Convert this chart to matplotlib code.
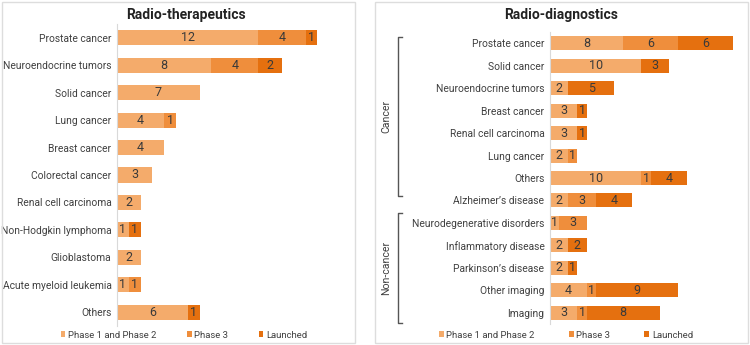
import matplotlib.pyplot as plt
from matplotlib.patches import Rectangle, Patch
from matplotlib.lines import Line2D

plt.rcParams['font.family'] = ['Roboto', 'DejaVu Sans']

# data
ther_cats = ['Prostate cancer', 'Neuroendocrine tumors', 'Solid cancer', 'Lung cancer',
             'Breast cancer', 'Colorectal cancer', 'Renal cell carcinoma',
             'Non-Hodgkin lymphoma', 'Glioblastoma', 'Acute myeloid leukemia', 'Others']
ther_p12 = [12, 8, 7, 4, 4, 3, 2, 1, 2, 1, 6]
ther_p3 = [4, 4, 0, 1, 0, 0, 0, 0, 0, 1, 0]
ther_launched = [1, 2, 0, 0, 0, 0, 0, 1, 0, 0, 1]

diag_cats = ['Prostate cancer', 'Solid cancer', 'Neuroendocrine tumors', 'Breast cancer',
             'Renal cell carcinoma', 'Lung cancer', 'Others', 'Alzheimer\u2019s disease',
             'Neurodegenerative disorders', 'Inflammatory disease', 'Parkinson\u2019s disease',
             'Other imaging', 'Imaging']
diag_p12 = [8, 10, 2, 3, 3, 2, 10, 2, 1, 2, 2, 4, 3]
diag_p3 = [6, 0, 0, 0, 0, 1, 1, 3, 3, 0, 0, 1, 1]
diag_launched = [6, 3, 5, 1, 1, 0, 4, 4, 0, 2, 1, 9, 8]

series_names = ['Phase 1 and Phase 2', 'Phase 3', 'Launched']
colors = ['#F4AB6B', '#EF8E3C', '#E5700F']

W, H = 750, 345
fig = plt.figure(figsize=(W / 100, H / 100), dpi=100)


def px_rect(x0, y0, x1, y1):
    # pixel box (top-left origin) -> figure fraction [l, b, w, h]
    return [x0 / W, 1 - y1 / H, (x1 - x0) / W, (y1 - y0) / H]


# panel frames
for x0, x1 in [(2, 355), (375, 748)]:
    l, b, w, h = px_rect(x0, 2, x1, 343)
    fig.patches.append(Rectangle((l, b), w, h, transform=fig.transFigure,
                                 fill=False, edgecolor='#DDDDDD', linewidth=1))


def draw_panel(ax, cats, p12, p3, launched, xmax, bar_h):
    y = list(range(len(cats)))
    left = [0] * len(cats)
    for vals, c in zip([p12, p3, launched], colors):
        bars = ax.barh(y, vals, left=left, height=bar_h, color=c, edgecolor='none')
        for rect, v in zip(bars, vals):
            if v > 0:
                ax.text(rect.get_x() + v / 2, rect.get_y() + bar_h / 2, str(v),
                        ha='center', va='center', fontsize=9, color='#3A3A3A')
        left = [a + b for a, b in zip(left, vals)]
    ax.set_yticks(y)
    ax.set_yticklabels(cats, fontsize=7.4, color='#404040')
    ax.set_ylim(len(cats) - 0.5, -0.5)
    ax.set_xlim(0, xmax)
    ax.set_xticks([])
    for s in ['top', 'right', 'bottom']:
        ax.spines[s].set_visible(False)
    ax.spines['left'].set_color('#D9D9D9')
    ax.tick_params(axis='y', length=0, pad=4)
    handles = [Patch(facecolor=c, edgecolor='none') for c in colors]
    return handles


ax1 = fig.add_axes(px_rect(117, 24, 341, 326))
h1 = draw_panel(ax1, ther_cats, ther_p12, ther_p3, ther_launched, 19, 0.55)
ax2 = fig.add_axes(px_rect(550, 32, 742, 324))
h2 = draw_panel(ax2, diag_cats, diag_p12, diag_p3, diag_launched, 21, 0.62)

fig.text(186 / W, 1 - 15 / H, 'Radio-therapeutics', ha='center', va='center',
         fontsize=10, fontweight='bold', color='#222222')
fig.text(561 / W, 1 - 15 / H, 'Radio-diagnostics', ha='center', va='center',
         fontsize=10, fontweight='bold', color='#222222')

# legends
for handles, xc, cs in [(h1, 184, 3.2), (h2, 566, 3.6)]:
    fig.legend(handles, series_names, loc='center', bbox_to_anchor=(xc / W, 1 - 335 / H),
               ncol=3, frameon=False, fontsize=6.8, handlelength=0.5, handleheight=0.5,
               handletextpad=0.3, columnspacing=cs, labelcolor='#404040')

# group brackets
bc = '#555555'
for y0, y1, label in [(37, 196, 'Cancer'), (213, 323, 'Non-cancer')]:
    xs = [402 / W, 398 / W, 398 / W, 402 / W]
    ys = [1 - y0 / H, 1 - y0 / H, 1 - y1 / H, 1 - y1 / H]
    fig.add_artist(Line2D(xs, ys, color=bc, linewidth=1, transform=fig.transFigure))
    fig.text(386 / W, 1 - (y0 + y1) / 2 / H, label, rotation=90, ha='center', va='center',
             fontsize=7.6, color='#404040')

plt.savefig('out.png', dpi=100)
